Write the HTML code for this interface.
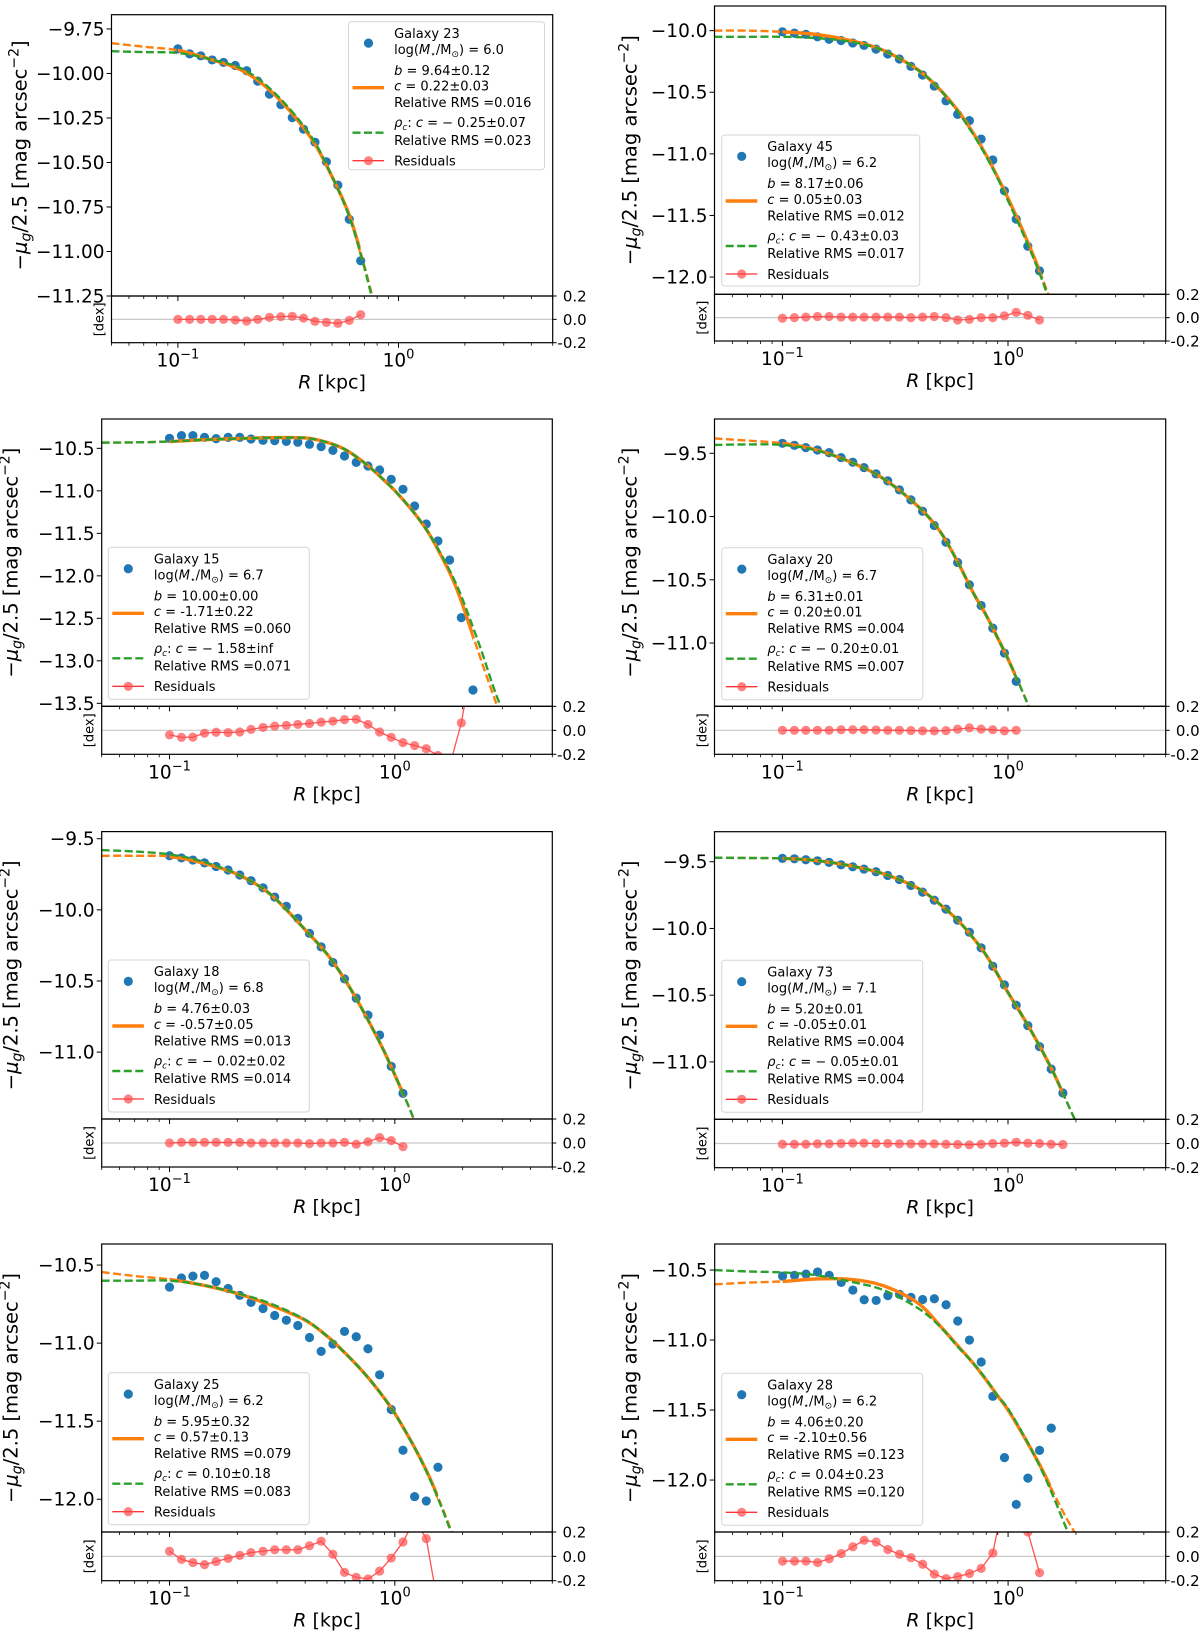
<!DOCTYPE html>
<html>
<head>
<meta charset="utf-8">
<style>
  html,body{margin:0;padding:0;background:#fff;width:1200px;height:1634px;overflow:hidden;}
  svg{display:block;overflow:hidden;font-family:"DejaVu Sans","Liberation Sans",sans-serif;}
</style>
</head>
<body>
<svg id="fig" width="1200" height="1634" viewBox="0 0 1200 1634" xmlns="http://www.w3.org/2000/svg"></svg>
<script>
// ---------- data ----------
const radii = [0.100,0.113,0.127,0.143,0.161,0.182,0.205,0.230,0.260,0.293,0.330,0.371,0.418,0.471,0.531,0.598,0.674,0.760,0.856,0.964,1.087,1.224,1.379,1.554,1.751,1.973,2.223];
const curveGrid = [0.05,0.07,0.1,0.14,0.2,0.28,0.4,0.5,0.6,0.7,0.8,0.9,1.0,1.2,1.4,1.6,1.8,2.0,2.4,2.8,3.2];

const g23Data = [-9.862,-9.890,-9.901,-9.924,-9.938,-9.955,-9.985,-10.043,-10.116,-10.175,-10.248,-10.313,-10.386,-10.496,-10.627,-10.819,-11.052];
const g23Orange = [-9.83,-9.85,-9.87,-9.92,-9.99,-10.13,-10.36,-10.58,-10.80,-11.08,-11.36,-11.64,-11.92,-12.45,-12.95,-13.4,-13.8,-14.2,-14.9,-15.5,-16];
const g23Green = [-9.875,-9.88,-9.885,-9.92,-9.98,-10.12,-10.35,-10.58,-10.81,-11.09,-11.38,-11.66,-11.94,-12.45,-12.95,-13.4,-13.8,-14.2,-14.9,-15.5,-16];
const g23Resid = [0,0,0,0,0,-0.006,-0.014,0,0.017,0.023,0.026,0.011,-0.017,-0.026,-0.034,-0.009,0.04];

const g45Data = [-10.01,-10.02,-10.03,-10.05,-10.07,-10.08,-10.10,-10.12,-10.15,-10.19,-10.23,-10.29,-10.36,-10.45,-10.57,-10.68,-10.73,-10.88,-11.05,-11.30,-11.53,-11.75,-11.95];
const g45Orange = [-10.0,-10.0,-10.01,-10.03,-10.08,-10.16,-10.32,-10.48,-10.65,-10.83,-11.01,-11.19,-11.36,-11.68,-11.98,-12.27,-12.55,-12.8,-13.3,-13.7,-14.1];
const g45Green = [-10.05,-10.05,-10.05,-10.06,-10.09,-10.16,-10.32,-10.48,-10.66,-10.84,-11.02,-11.2,-11.38,-11.7,-12.0,-12.3,-12.58,-12.85,-13.3,-13.7,-14.1];
const g45Resid = [-0.005,0,0.005,0.01,0.01,0.005,0.005,0.005,0.005,0.005,0.005,0,0.005,0.01,0,-0.02,-0.015,0,0,0.015,0.045,0.02,-0.02];

const g15Data = [-10.382,-10.351,-10.351,-10.371,-10.386,-10.371,-10.371,-10.390,-10.406,-10.410,-10.418,-10.429,-10.453,-10.480,-10.524,-10.590,-10.665,-10.708,-10.755,-10.865,-10.982,-11.178,-11.390,-11.590,-11.814,-12.492,-13.343];
const g15Orange = [-10.433,-10.43,-10.42,-10.40,-10.386,-10.375,-10.378,-10.43,-10.512,-10.63,-10.755,-10.88,-10.998,-11.237,-11.48,-11.755,-12.03,-12.343,-12.97,-13.48,-13.9];
const g15Green = [-10.433,-10.43,-10.42,-10.40,-10.386,-10.375,-10.378,-10.43,-10.512,-10.63,-10.755,-10.88,-10.998,-11.237,-11.48,-11.74,-12.0,-12.28,-12.85,-13.38,-13.75];
const g15Resid = [-0.038,-0.059,-0.057,-0.024,-0.016,-0.019,-0.014,0.008,0.024,0.035,0.041,0.049,0.057,0.068,0.076,0.089,0.092,0.049,-0.014,-0.059,-0.103,-0.127,-0.154,-0.21,-0.30,0.062,0.6];

const g20Data = [-9.421,-9.437,-9.455,-9.474,-9.495,-9.534,-9.571,-9.613,-9.663,-9.718,-9.789,-9.868,-9.958,-10.071,-10.203,-10.363,-10.539,-10.703,-10.882,-11.079,-11.303];
const g20Orange = [-9.382,-9.40,-9.421,-9.471,-9.568,-9.70,-9.921,-10.118,-10.363,-10.60,-10.78,-10.96,-11.126,-11.447,-11.75,-12.03,-12.3,-12.55,-13.0,-13.4,-13.8];
const g20Green = [-9.434,-9.43,-9.434,-9.475,-9.568,-9.70,-9.921,-10.118,-10.363,-10.60,-10.78,-10.96,-11.126,-11.447,-11.75,-12.03,-12.3,-12.55,-13.0,-13.4,-13.8];
const g20Resid = [0,0,0,0,0,0.005,0.005,0.005,0.003,0,0,-0.002,-0.005,-0.005,-0.003,0.01,0.02,0.01,0.005,-0.005,0];

const g18Data = [-9.62,-9.635,-9.65,-9.67,-9.695,-9.72,-9.755,-9.795,-9.845,-9.91,-9.975,-10.06,-10.165,-10.26,-10.37,-10.485,-10.62,-10.74,-10.88,-11.10,-11.29];
const g18Orange = [-9.62,-9.62,-9.625,-9.67,-9.75,-9.89,-10.14,-10.31,-10.49,-10.67,-10.84,-11.0,-11.16,-11.45,-11.75,-12.0,-12.25,-12.5,-12.9,-13.3,-13.6];
const g18Green = [-9.58,-9.59,-9.61,-9.66,-9.75,-9.89,-10.14,-10.31,-10.49,-10.67,-10.84,-11.0,-11.16,-11.45,-11.75,-12.0,-12.25,-12.5,-12.9,-13.3,-13.6];
const g18Resid = [0,0.005,0.005,0.005,0.005,0.005,0.005,0,0,0,0,0,-0.005,0,0,0.005,-0.01,0.01,0.045,0.02,-0.03];

const g73Data = [-9.475,-9.478,-9.485,-9.493,-9.505,-9.523,-9.538,-9.555,-9.575,-9.603,-9.633,-9.678,-9.728,-9.788,-9.855,-9.938,-10.028,-10.145,-10.283,-10.423,-10.575,-10.728,-10.885,-11.053,-11.233];
const g73Orange = [-9.47,-9.472,-9.475,-9.49,-9.53,-9.59,-9.70,-9.82,-9.94,-10.07,-10.20,-10.345,-10.48,-10.70,-10.90,-11.09,-11.28,-11.45,-11.75,-12.05,-12.3];
const g73Green = [-9.47,-9.472,-9.475,-9.49,-9.53,-9.59,-9.70,-9.82,-9.94,-10.07,-10.20,-10.345,-10.48,-10.70,-10.90,-11.09,-11.28,-11.45,-11.75,-12.05,-12.3];
const g73Resid = [-0.006,-0.006,-0.006,-0.003,-0.003,0,0.003,0.003,0,0,-0.003,-0.003,-0.003,-0.003,-0.006,-0.008,-0.011,-0.006,0,0.003,0.011,0.003,0,-0.006,-0.008];

const g25Data = [-10.641,-10.583,-10.571,-10.566,-10.607,-10.650,-10.694,-10.739,-10.778,-10.823,-10.853,-10.887,-10.964,-11.053,-11.006,-10.925,-10.959,-11.036,-11.203,-11.425,-11.686,-11.983,-12.011,-11.795];
const g25Orange = [-10.545,-10.57,-10.592,-10.628,-10.682,-10.756,-10.853,-10.955,-11.062,-11.162,-11.259,-11.355,-11.45,-11.647,-11.835,-12.03,-12.22,-12.4,-12.8,-13.2,-13.6];
const g25Green = [-10.60,-10.60,-10.60,-10.628,-10.68,-10.746,-10.85,-10.955,-11.062,-11.162,-11.259,-11.355,-11.45,-11.647,-11.84,-12.04,-12.23,-12.41,-12.8,-13.2,-13.6];
const g25Resid = [0.042,-0.025,-0.051,-0.068,-0.042,-0.017,0.008,0.031,0.042,0.054,0.054,0.054,0.087,0.124,0.017,-0.132,-0.172,-0.186,-0.121,-0.014,0.118,0.30,0.146,-0.40];

const g28Data = [-10.543,-10.538,-10.529,-10.514,-10.538,-10.588,-10.643,-10.712,-10.717,-10.683,-10.674,-10.695,-10.710,-10.705,-10.748,-10.864,-11.0,-11.157,-11.402,-11.840,-12.174,-11.986,-11.788,-11.629];
const g28Orange = [-10.602,-10.59,-10.581,-10.564,-10.567,-10.612,-10.738,-10.900,-11.043,-11.165,-11.286,-11.40,-11.5,-11.714,-11.91,-12.10,-12.262,-12.39,-12.7,-13.0,-13.3];
const g28Green = [-10.50,-10.51,-10.517,-10.536,-10.583,-10.643,-10.774,-10.905,-11.05,-11.165,-11.28,-11.40,-11.49,-11.71,-11.92,-12.131,-12.333,-12.5,-12.85,-13.2,-13.5];
const g28Resid = [-0.039,-0.039,-0.039,-0.051,-0.020,0.023,0.079,0.132,0.118,0.056,0.017,-0.011,-0.065,-0.146,-0.183,-0.166,-0.141,-0.099,0.028,0.5,0.6,0.2,-0.135];

const residTicks = [0.2, 0.0, -0.2];
const residTickLabels = ["0.2", "0.0", "-0.2"];
const xMajorTicks = [0.1, 1];
const xMinorTicks = [0.05,0.06,0.07,0.08,0.09,0.2,0.3,0.4,0.5,0.6,0.7,0.8,0.9,2,3,4,5];

// ---------- panel layout ----------
const panels = [
 {id:'galaxy-23', L:111.5,R:552.7,T:14.7,MB:296,RB:342.7,ymin:-11.25,ymax:-9.67,
  yticks:[-9.75,-10.0,-10.25,-10.5,-10.75,-11.0,-11.25], ylabels:["−9.75","−10.00","−10.25","−10.50","−10.75","−11.00","−11.25"],
  data:g23Data, orange:g23Orange, green:g23Green, resid:g23Resid,
  leg:{x:348.5,y:21.7,w:196,h:148}, t:["Galaxy 23","6.0","9.64±0.12","0.22±0.03","0.016","− 0.25±0.07","0.023"], ylx:92},
 {id:'galaxy-45', L:714.5,R:1165.7,T:6,MB:294.3,RB:341,ymin:-12.14,ymax:-9.80,
  yticks:[-10,-10.5,-11,-11.5,-12], ylabels:["−10.0","−10.5","−11.0","−11.5","−12.0"],
  data:g45Data, orange:g45Orange, green:g45Green, resid:g45Resid,
  leg:{x:721.7,y:135,w:198,h:151}, t:["Galaxy 45","6.2","8.17±0.06","0.05±0.03","0.012","− 0.43±0.03","0.017"], ylx:85},
 {id:'galaxy-15', L:101.7,R:552.3,T:419,MB:706.3,RB:754.3,ymin:-13.535,ymax:-10.155,
  yticks:[-10.5,-11,-11.5,-12,-12.5,-13,-13.5], ylabels:["−10.5","−11.0","−11.5","−12.0","−12.5","−13.0","−13.5"],
  data:g15Data, orange:g15Orange, green:g15Green, resid:g15Resid,
  leg:{x:108.3,y:547.3,w:201,h:152}, t:["Galaxy 15","6.7","10.00±0.00","-1.71±0.22","0.060","− 1.58±inf","0.071"], ylx:91},
 {id:'galaxy-20', L:714.5,R:1165.7,T:419,MB:706.3,RB:754.3,ymin:-11.5,ymax:-9.229,
  yticks:[-9.5,-10,-10.5,-11], ylabels:["−9.5","−10.0","−10.5","−11.0"],
  data:g20Data, orange:g20Orange, green:g20Green, resid:g20Resid,
  leg:{x:721.8,y:547.7,w:201,h:152}, t:["Galaxy 20","6.7","6.31±0.01","0.20±0.01","0.004","− 0.20±0.01","0.007"], ylx:85},
 {id:'galaxy-18', L:101.7,R:552.3,T:831.6,MB:1119,RB:1167,ymin:-11.47,ymax:-9.45,
  yticks:[-9.5,-10,-10.5,-11], ylabels:["−9.5","−10.0","−10.5","−11.0"],
  data:g18Data, orange:g18Orange, green:g18Green, resid:g18Resid,
  leg:{x:108.3,y:960,w:201,h:152}, t:["Galaxy 18","6.8","4.76±0.03","-0.57±0.05","0.013","− 0.02±0.02","0.014"], ylx:91},
 {id:'galaxy-73', L:714.5,R:1165.7,T:831.7,MB:1119.3,RB:1167.7,ymin:-11.43,ymax:-9.275,
  yticks:[-9.5,-10,-10.5,-11], ylabels:["−9.5","−10.0","−10.5","−11.0"],
  data:g73Data, orange:g73Orange, green:g73Green, resid:g73Resid,
  leg:{x:721.7,y:960.3,w:201,h:152}, t:["Galaxy 73","7.1","5.20±0.01","-0.05±0.01","0.004","− 0.05±0.01","0.004"], ylx:85},
 {id:'galaxy-25', L:101.7,R:552.3,T:1244,MB:1532,RB:1580.7,ymin:-12.21,ymax:-10.365,
  yticks:[-10.5,-11,-11.5,-12], ylabels:["−10.5","−11.0","−11.5","−12.0"],
  data:g25Data, orange:g25Orange, green:g25Green, resid:g25Resid,
  leg:{x:108.3,y:1372.7,w:201,h:152}, t:["Galaxy 25","6.2","5.95±0.32","0.57±0.13","0.079","0.10±0.18","0.083"], ylx:91},
 {id:'galaxy-28', L:714.7,R:1165.7,T:1244,MB:1532,RB:1580.7,ymin:-12.371,ymax:-10.314,
  yticks:[-10.5,-11,-11.5,-12], ylabels:["−10.5","−11.0","−11.5","−12.0"],
  data:g28Data, orange:g28Orange, green:g28Green, resid:g28Resid,
  leg:{x:721.7,y:1373.3,w:201,h:152}, t:["Galaxy 28","6.2","4.06±0.20","-2.10±0.56","0.123","0.04±0.23","0.120"], ylx:85}
];

const NS = 'http://www.w3.org/2000/svg';
const svg = document.getElementById('fig');
function mk(tag, parent){ const e=document.createElementNS(NS,tag); parent.appendChild(e); return e; }
function setA(e, o){ for(const k in o) e.setAttribute(k,o[k]); return e; }
function smooth(pts){
  if(pts.length<2) return '';
  let d='M'+pts[0][0].toFixed(2)+','+pts[0][1].toFixed(2);
  for(let i=0;i<pts.length-1;i++){
    const p0=pts[Math.max(i-1,0)], p1=pts[i], p2=pts[i+1], p3=pts[Math.min(i+2,pts.length-1)];
    const c1=[p1[0]+(p2[0]-p0[0])/6, p1[1]+(p2[1]-p0[1])/6];
    const c2=[p2[0]-(p3[0]-p1[0])/6, p2[1]-(p3[1]-p1[1])/6];
    d+=' C'+c1[0].toFixed(2)+','+c1[1].toFixed(2)+' '+c2[0].toFixed(2)+','+c2[1].toFixed(2)+' '+p2[0].toFixed(2)+','+p2[1].toFixed(2);
  }
  return d;
}
// keep curve points until the first one that falls below the axis bottom
function truncate(pts, bottom){
  const out = [];
  for (const q of pts) { out.push(q); if (q[1] > bottom) break; }
  return out;
}
const defs = mk('defs', svg);

panels.forEach((p, pi) => {
  const xs = r => p.L + (Math.log10(r) - Math.log10(0.05)) / 2 * (p.R - p.L);
  const ys = v => p.T + (p.ymax - v) / (p.ymax - p.ymin) * (p.MB - p.T);
  const yr = v => p.MB + (0.2 - v) / 0.4 * (p.RB - p.MB);

  const g = mk('g', svg);
  
  

  const cm = setA(mk('clipPath', defs), {id:'cm'+pi});
  setA(mk('rect', cm), {x:p.L, y:p.T, width:p.R-p.L, height:p.MB-p.T});
  const cr = setA(mk('clipPath', defs), {id:'cr'+pi});
  setA(mk('rect', cr), {x:p.L, y:p.MB, width:p.R-p.L, height:p.RB-p.MB});
  const rmax = radii[p.data.length-1];
  const cs = setA(mk('clipPath', defs), {id:'cs'+pi});
  setA(mk('rect', cs), {x:xs(0.1), y:p.T, width:xs(rmax)-xs(0.1), height:p.MB-p.T});

  const main = setA(mk('g', g), {'clip-path':'url(#cm'+pi+')'});
  
  
  p.data.forEach((v, i) => {
    const c = setA(mk('circle', main), {cx:xs(radii[i]), cy:ys(v), r:4.6, fill:'#1f77b4'});
    
    
  });
  const oPts = truncate(curveGrid.map((r, i) => [xs(r), ys(p.orange[i])]), p.MB);
  const gPts = truncate(curveGrid.map((r, i) => [xs(r), ys(p.green[i])]), p.MB);
  const od = setA(mk('path', main), {d:smooth(oPts), fill:'none', stroke:'#ff7f0e', 'stroke-width':2.4, 'stroke-dasharray':'8 3.5'});
  
  
  const solidG = setA(mk('g', main), {'clip-path':'url(#cs'+pi+')'});
  const os = setA(mk('path', solidG), {d:smooth(oPts), fill:'none', stroke:'#ff7f0e', 'stroke-width':3.4});
  
  
  const gl = setA(mk('path', main), {d:smooth(gPts), fill:'none', stroke:'#2ca02c', 'stroke-width':2.4, 'stroke-dasharray':'8 3.5'});
  
  

  const rg = setA(mk('g', g), {'clip-path':'url(#cr'+pi+')'});
  
  
  setA(mk('line', rg), {x1:p.L, x2:p.R, y1:yr(0), y2:yr(0), stroke:'#c8c8c8', 'stroke-width':1.2});
  const rpts = p.resid.map((v, i) => [xs(radii[i]), yr(v)]);
  const rl = setA(mk('polyline', rg), {points:rpts.map(q=>q[0].toFixed(2)+','+q[1].toFixed(2)).join(' '), fill:'none', stroke:'#ff3333', 'stroke-width':1.3, 'stroke-opacity':0.85});
  
  
  rpts.forEach(q => {
    const c = setA(mk('circle', rg), {cx:q[0], cy:q[1], r:4.6, fill:'#ff4d4d', 'fill-opacity':0.7});
    
    
  });

  const f1 = setA(mk('rect', g), {x:p.L, y:p.T, width:p.R-p.L, height:p.MB-p.T, fill:'none', stroke:'#000', 'stroke-width':1.2});
  
  
  const f2 = setA(mk('rect', g), {x:p.L, y:p.MB, width:p.R-p.L, height:p.RB-p.MB, fill:'none', stroke:'#000', 'stroke-width':1.2});
  
  

  xMajorTicks.forEach(t => {
    const x = xs(t);
    setA(mk('line', g), {x1:x, x2:x, y1:p.MB, y2:p.MB+5, stroke:'#000', 'stroke-width':1});
    setA(mk('line', g), {x1:x, x2:x, y1:p.RB, y2:p.RB+5, stroke:'#000', 'stroke-width':1});
  });
  xMinorTicks.forEach(t => {
    const x = xs(t);
    setA(mk('line', g), {x1:x, x2:x, y1:p.MB, y2:p.MB+3, stroke:'#000', 'stroke-width':0.8});
    setA(mk('line', g), {x1:x, x2:x, y1:p.RB, y2:p.RB+3, stroke:'#000', 'stroke-width':0.8});
  });
  [['−1', 0.1], ['0', 1]].forEach(([ex, t]) => {
    const tx = setA(mk('text', g), {x:xs(t), y:p.RB+24, 'text-anchor':'middle', 'font-size':18.5, fill:'#000'});
    
    
    tx.appendChild(document.createTextNode('10'));
    const s = setA(mk('tspan', tx), {dy:-8, 'font-size':13});
    s.textContent = ex;
  });
  const xl = setA(mk('text', g), {x:(p.L+p.R)/2, y:p.RB+46, 'text-anchor':'middle', 'font-size':19, fill:'#000'});
  
  
  setA(mk('tspan', xl), {'font-style':'italic'}).textContent = 'R';
  xl.appendChild(document.createTextNode(' [kpc]'));

  p.yticks.forEach((t, i) => {
    const y = ys(t);
    setA(mk('line', g), {x1:p.L-5, x2:p.L, y1:y, y2:y, stroke:'#000', 'stroke-width':1});
    const tx = setA(mk('text', g), {x:p.L-7, y:y+6.5, 'text-anchor':'end', 'font-size':18.5, fill:'#000'});
    
    
    tx.textContent = p.ylabels[i];
  });
  residTicks.forEach((t, i) => {
    const y = yr(t);
    setA(mk('line', g), {x1:p.R, x2:p.R+4, y1:y, y2:y, stroke:'#000', 'stroke-width':1});
    const tx = setA(mk('text', g), {x:p.R+34, y:y+5.5, 'text-anchor':'end', 'font-size':15, fill:'#000'});
    
    
    tx.textContent = residTickLabels[i];
  });
  const dx = setA(mk('text', g), {x:0, y:0, 'text-anchor':'middle', 'font-size':13, fill:'#000',
     transform:'translate('+(p.L-8)+','+((p.MB+p.RB)/2)+') rotate(-90)'});
  
  
  dx.textContent = '[dex]';

  const yl = setA(mk('text', g), {x:0, y:0, 'text-anchor':'middle', 'font-size':19.5, fill:'#000',
     transform:'translate('+(p.L-p.ylx+7)+','+((p.T+p.MB)/2)+') rotate(-90)'});
  
  
  yl.appendChild(document.createTextNode('−'));
  setA(mk('tspan', yl), {'font-style':'italic'}).textContent = 'μ';
  setA(mk('tspan', yl), {'font-style':'italic', 'font-size':14, dy:4}).textContent = 'g';
  setA(mk('tspan', yl), {dy:-4}).textContent = '/2.5 [mag arcsec';
  setA(mk('tspan', yl), {'font-size':14, dy:-8}).textContent = '−2';
  setA(mk('tspan', yl), {dy:8}).textContent = ']';

  const lg = mk('g', g);
  
  
  const L = p.leg;
  setA(mk('rect', lg), {x:L.x, y:L.y, width:L.w, height:L.h, rx:3, fill:'#fff', 'fill-opacity':0.85, stroke:'#d5d5d5', 'stroke-width':1});
  const m = setA(mk('circle', lg), {cx:L.x+20, cy:L.y+21.4, r:4.6, fill:'#1f77b4'});
  
  
  const lo = setA(mk('line', lg), {x1:L.x+4, x2:L.x+35.6, y1:L.y+66, y2:L.y+66, stroke:'#ff7f0e', 'stroke-width':3.4});
  
  
  const lgr = setA(mk('line', lg), {x1:L.x+4, x2:L.x+35.6, y1:L.y+111, y2:L.y+111, stroke:'#2ca02c', 'stroke-width':2.4, 'stroke-dasharray':'8 3.5'});
  
  
  const lr = setA(mk('line', lg), {x1:L.x+4, x2:L.x+35.6, y1:L.y+139, y2:L.y+139, stroke:'#ff3333', 'stroke-width':1.3});
  
  
  setA(mk('circle', lg), {cx:L.x+20, cy:L.y+139, r:4.6, fill:'#ff4d4d', 'fill-opacity':0.7});

  const tx0 = L.x + 45.6;
  const offs = [11.4, 27.4, 48.4, 64, 80.7, 100.7, 118.4, 139];
  function line(i){
    const t = setA(mk('text', lg), {x:tx0, y:L.y+offs[i]+4.8, 'font-size':13, fill:'#000'});
    
    
    return t;
  }
  line(0).textContent = p.t[0];
  let t1 = line(1);
  t1.appendChild(document.createTextNode('log('));
  setA(mk('tspan', t1), {'font-style':'italic'}).textContent = 'M';
  setA(mk('tspan', t1), {'font-size':9, dy:3}).textContent = '⋆';
  setA(mk('tspan', t1), {dy:-3}).textContent = '/M';
  setA(mk('tspan', t1), {'font-size':9, dy:3}).textContent = '⊙';
  setA(mk('tspan', t1), {dy:-3}).textContent = ') = ' + p.t[1];
  let t2 = line(2);
  setA(mk('tspan', t2), {'font-style':'italic'}).textContent = 'b';
  t2.appendChild(document.createTextNode(' = ' + p.t[2]));
  let t3 = line(3);
  setA(mk('tspan', t3), {'font-style':'italic'}).textContent = 'c';
  t3.appendChild(document.createTextNode(' = ' + p.t[3]));
  line(4).textContent = 'Relative RMS =' + p.t[4];
  let t5 = line(5);
  setA(mk('tspan', t5), {'font-style':'italic'}).textContent = 'ρ';
  setA(mk('tspan', t5), {'font-style':'italic', 'font-size':9, dy:3}).textContent = 'c';
  setA(mk('tspan', t5), {dy:-3}).textContent = ': ';
  setA(mk('tspan', t5), {'font-style':'italic'}).textContent = 'c';
  t5.appendChild(document.createTextNode(' = ' + p.t[5]));
  line(6).textContent = 'Relative RMS =' + p.t[6];
  line(7).textContent = 'Residuals';
});
</script>
</body>
</html>
